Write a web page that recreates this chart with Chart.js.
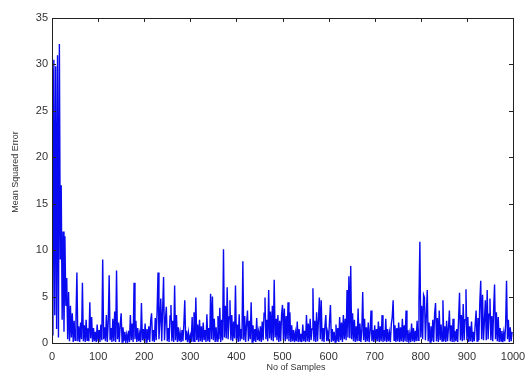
<!DOCTYPE html>
<html>
<head>
<meta charset="utf-8">
<script src="https://cdn.jsdelivr.net/npm/chart.js@4/dist/chart.umd.min.js"></script>
<style>
  body { margin: 0; background: #fff; }
  #wrap { width: 527px; height: 375px; }
</style>
</head>
<body>
<div id="wrap"><canvas id="mseChart" width="527" height="375"></canvas></div>
<script>
// Data: mean squared error, one value every 2 samples (0..998)
const sampleStep = 2;
const mse = [
  29.5, 0.8, 30.5, 3.0, 29.8, 1.5, 31.0, 0.6, 32.2, 9.0, 17.0, 2.5, 12.0, 1.2, 11.5, 4.0, 7.0, 0.4, 5.5, 0.2, 4.0, 0.6, 3.2, 0.1, 2.4,
  0.3, 2.6, 7.6, 0.2, 1.8, 0.1, 2.2, 0.4, 6.5, 0.2, 1.9, 0.1, 2.5, 0.3, 1.6, 0.2, 4.4, 0.5, 2.8, 0.1, 1.6, 0.2, 1.2, 0.1, 2.0,
  0.2, 1.4, 0.1, 2.0, 0.3, 9.0, 0.4, 1.7, 0.2, 3.0, 0.1, 2.3, 7.3, 0.3, 1.6, 0.1, 2.6, 0.2, 3.4, 0.1, 7.8, 0.4, 2.2, 0.1, 2.0,
  3.2, 0.1, 1.7, 0.2, 1.2, 0.1, 0.9, 0.2, 1.3, 0.1, 3.0, 0.3, 2.1, 0.1, 6.5, 0.4, 2.4, 0.1, 1.6, 0.2, 1.0, 0.1, 4.3, 0.3, 1.5,
  0.2, 2.1, 0.1, 1.5, 0.3, 1.8, 0.1, 2.4, 3.2, 0.2, 1.4, 0.1, 2.7, 0.3, 3.5, 7.6, 0.4, 2.3, 4.8, 0.2, 3.6, 7.1, 0.3, 2.5, 3.9,
  0.2, 1.6, 0.1, 2.9, 4.1, 0.2, 2.4, 0.1, 6.2, 0.3, 3.0, 0.1, 1.7, 0.2, 1.1, 0.1, 1.4, 0.2, 2.0, 4.6, 0.3, 1.3, 0.1, 1.1, 0.2,
  0.8, 0.1, 2.8, 0.2, 3.3, 0.1, 4.9, 0.3, 2.0, 0.1, 2.5, 0.2, 1.8, 0.1, 2.2, 0.3, 1.4, 0.1, 3.1, 0.2, 1.6, 0.1, 5.3, 0.4, 5.0,
  0.3, 2.6, 0.1, 1.7, 0.2, 2.9, 0.4, 3.8, 0.1, 2.5, 0.3, 10.1, 0.6, 4.0, 0.5, 6.0, 0.4, 2.8, 4.6, 0.3, 3.0, 0.2, 2.3, 0.5, 6.2,
  0.3, 2.0, 0.1, 3.1, 0.2, 1.5, 0.4, 8.8, 0.3, 2.9, 0.1, 2.0, 3.5, 0.2, 2.4, 0.4, 4.4, 0.1, 1.9, 0.2, 1.5, 0.1, 2.7, 0.3, 1.2,
  0.2, 1.8, 0.1, 2.3, 0.3, 3.2, 4.9, 0.4, 2.5, 0.2, 5.7, 0.5, 3.4, 0.3, 4.0, 0.2, 6.8, 0.6, 2.6, 0.3, 3.0, 0.1, 2.4, 0.2, 3.1,
  4.1, 0.3, 3.7, 0.2, 2.9, 0.4, 4.4, 0.2, 3.3, 0.1, 1.9, 0.2, 1.4, 0.1, 1.1, 0.2, 2.3, 0.1, 1.5, 0.2, 1.0, 0.1, 2.0, 0.2, 1.3,
  0.1, 3.0, 0.2, 2.1, 0.1, 2.6, 0.3, 1.5, 5.9, 0.2, 2.4, 0.1, 3.3, 0.2, 2.5, 4.9, 0.4, 4.6, 0.2, 1.6, 0.1, 1.8, 3.0, 0.2, 1.1,
  0.2, 2.4, 4.1, 0.1, 1.5, 0.2, 1.2, 0.1, 2.0, 0.2, 1.6, 0.1, 2.8, 0.3, 2.2, 0.1, 3.0, 0.4, 2.6, 0.3, 5.7, 0.6, 7.2, 0.5, 8.3,
  0.4, 3.2, 0.2, 2.5, 0.1, 1.8, 0.2, 3.7, 0.3, 2.1, 0.1, 1.3, 5.5, 0.3, 2.6, 0.1, 1.7, 0.2, 2.2, 0.1, 1.2, 3.5, 0.2, 1.4, 0.1,
  1.9, 0.1, 1.5, 0.2, 2.3, 0.1, 1.8, 0.2, 3.0, 0.1, 1.4, 0.2, 2.6, 0.1, 1.5, 0.2, 1.1, 0.1, 2.0, 2.8, 4.6, 0.3, 1.9, 0.1, 1.6,
  0.2, 2.2, 0.1, 1.7, 0.2, 2.6, 0.1, 1.9, 0.2, 3.5, 0.1, 1.4, 0.2, 1.0, 0.1, 2.1, 0.2, 1.6, 0.1, 1.3, 0.2, 2.4, 0.3, 4.5, 10.9,
  0.6, 4.0, 0.4, 5.2, 4.9, 0.3, 3.0, 5.7, 0.2, 2.2, 0.1, 1.8, 0.2, 2.5, 0.1, 3.2, 4.3, 0.2, 2.7, 0.1, 3.5, 0.3, 2.0, 0.2, 4.6,
  0.2, 1.8, 0.1, 2.4, 0.2, 1.6, 3.5, 0.2, 1.9, 0.1, 2.6, 0.1, 1.3, 0.2, 1.5, 0.1, 2.7, 5.4, 0.3, 3.0, 0.2, 4.2, 0.3, 2.5, 5.8,
  0.3, 2.8, 0.1, 1.8, 0.2, 2.3, 0.1, 1.2, 0.2, 2.0, 3.5, 0.2, 2.7, 0.3, 4.4, 6.7, 0.4, 5.2, 0.3, 2.4, 4.6, 0.3, 5.7, 0.4, 3.1,
  4.8, 0.3, 2.9, 0.2, 3.6, 6.3, 0.4, 3.3, 0.2, 2.8, 0.1, 1.6, 0.2, 1.3, 0.1, 1.1, 0.2, 2.0, 6.7, 0.4, 2.5, 0.1, 1.7, 0.2, 1.2
];
const xTicks = [0, 100, 200, 300, 400, 500, 600, 700, 800, 900, 1000];
const yTicks = [0, 5, 10, 15, 20, 25, 30, 35];
const xTitle = "No of Samples";
const yTitle = "Mean Squared Error";

const points = mse.map((v, i) => ({ x: i * sampleStep, y: v }));

// box round the plot with inward ticks, MATLAB style
const axesBox = {
    id: "axesBox",
    afterDraw(chart) {
        const ctx = chart.ctx;
        const { left, right, top, bottom } = chart.chartArea;
        const xs = chart.scales.x;
        const ys = chart.scales.y;
        const len = 4;

        ctx.save();
        ctx.strokeStyle = "#222";
        ctx.lineWidth = 1;
        ctx.strokeRect(left + 0.5, top + 0.5, right - left, bottom - top);

        ctx.beginPath();
        xTicks.forEach(v => {
            const px = Math.round(xs.getPixelForValue(v)) + 0.5;
            ctx.moveTo(px, bottom); ctx.lineTo(px, bottom - len);
            ctx.moveTo(px, top); ctx.lineTo(px, top + len);
        });
        yTicks.forEach(v => {
            const py = Math.round(ys.getPixelForValue(v)) + 0.5;
            ctx.moveTo(left, py); ctx.lineTo(left + len, py);
            ctx.moveTo(right, py); ctx.lineTo(right - len, py);
        });
        ctx.stroke();

        // axis titles
        ctx.fillStyle = "#333";
        ctx.font = "9px 'Liberation Sans', Arial, sans-serif";
        ctx.textAlign = "center";
        ctx.textBaseline = "middle";
        ctx.fillText(xTitle, 296, 368);
        ctx.translate(16, 172);
        ctx.rotate(-Math.PI / 2);
        ctx.fillText(yTitle, 0, 0);
        ctx.restore();
    }
};

const tickFont = { family: "'Liberation Sans', Arial, sans-serif", size: 11 };

new Chart(document.getElementById("mseChart"), {
    type: "line",
    data: {
        datasets: [{
            data: points,
            borderColor: "#0a0af0",
            borderWidth: 1.4,
            pointRadius: 0,
            tension: 0,
            fill: false
        }]
    },
    options: {
        responsive: false,
        animation: false,
        layout: { padding: { top: 18, right: 14, left: 0, bottom: 0 } },
        plugins: { legend: { display: false }, tooltip: { enabled: false } },
        scales: {
            x: {
                type: "linear",
                min: 0,
                max: 1000,
                afterBuildTicks: s => { s.ticks = xTicks.map(v => ({ value: v })); },
                afterFit: s => { s.height = 32; s.paddingLeft = 0; s.paddingRight = 0; },
                grid: { display: false, drawTicks: false },
                border: { display: false },
                ticks: { color: "#333", font: tickFont, padding: 7, maxRotation: 0, callback: v => String(v) }
            },
            y: {
                min: 0,
                max: 35,
                afterBuildTicks: s => { s.ticks = yTicks.map(v => ({ value: v })); },
                afterFit: s => { s.width = 52; s.paddingTop = 0; s.paddingBottom = 0; },
                grid: { display: false, drawTicks: false },
                border: { display: false },
                ticks: { color: "#333", font: tickFont, padding: 4, callback: v => String(v) }
            }
        }
    },
    plugins: [axesBox]
});
</script>
</body>
</html>
